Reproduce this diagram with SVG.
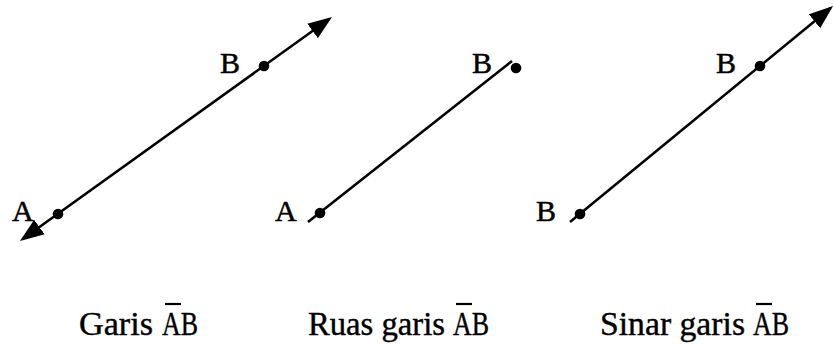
<svg xmlns="http://www.w3.org/2000/svg" width="834" height="345" viewBox="0 0 834 345">
  <style>
    .ln { stroke: #000; stroke-width: 2.6; fill: none; }
    .dot { fill: #000; }
    .lbl { font-family: "Liberation Serif", "Times New Roman", serif; font-size: 30px; fill: #000; stroke: #000; stroke-width: 0.5; }
    .cap { font-family: "Liberation Serif", "Times New Roman", serif; font-size: 33px; fill: #000; stroke: #000; stroke-width: 0.4; }
    .bar { stroke: #000; stroke-width: 2.2; }
  </style>
  <defs>
    <marker id="arrow" markerUnits="userSpaceOnUse" markerWidth="26" markerHeight="20" refX="21" refY="9" orient="auto-start-reverse" viewBox="0 0 26 20">
      <path d="M0,0 L24,9 L0,18 Z" fill="#000"/>
    </marker>
  </defs>
  <g id="connectors">
    <line class="ln" x1="22.4" y1="239.3" x2="329.6" y2="18.7" marker-start="url(#arrow)" marker-end="url(#arrow)"/>
    <line class="ln" x1="308" y1="222" x2="512" y2="61"/>
    <line class="ln" x1="570" y1="222" x2="830.7" y2="7.9" marker-end="url(#arrow)"/>
  </g>
  <g id="garis">
    <circle class="dot" cx="58" cy="214" r="5.3"/>
    <circle class="dot" cx="264" cy="66" r="5.3"/>
    <text class="lbl" x="12" y="221">A</text>
    <text class="lbl" x="220" y="73">B</text>
  </g>
  <g id="ruas-garis">
    <circle class="dot" cx="320" cy="213" r="5.3"/>
    <circle class="dot" cx="516" cy="68" r="5.3"/>
    <text class="lbl" x="275" y="221">A</text>
    <text class="lbl" x="472" y="73">B</text>
  </g>
  <g id="sinar-garis">
    <circle class="dot" cx="580" cy="214" r="5.3"/>
    <circle class="dot" cx="760" cy="66" r="5.3"/>
    <text class="lbl" x="536" y="221">B</text>
    <text class="lbl" x="716" y="73">B</text>
  </g>
  <g id="captions">
    <text class="cap" x="79" y="335" textLength="74" lengthAdjust="spacingAndGlyphs">Garis</text>
    <text class="cap" x="162" y="335" textLength="36" lengthAdjust="spacingAndGlyphs">AB</text>
    <line class="bar" x1="165" y1="304" x2="181" y2="304"/>
    <text class="cap" x="308" y="335" textLength="137" lengthAdjust="spacingAndGlyphs">Ruas garis</text>
    <text class="cap" x="453" y="335" textLength="36" lengthAdjust="spacingAndGlyphs">AB</text>
    <line class="bar" x1="456" y1="304" x2="472" y2="304"/>
    <text class="cap" x="600" y="335" textLength="145" lengthAdjust="spacingAndGlyphs">Sinar garis</text>
    <text class="cap" x="753" y="335" textLength="36" lengthAdjust="spacingAndGlyphs">AB</text>
    <line class="bar" x1="756" y1="304" x2="772" y2="304"/>
  </g>
</svg>
